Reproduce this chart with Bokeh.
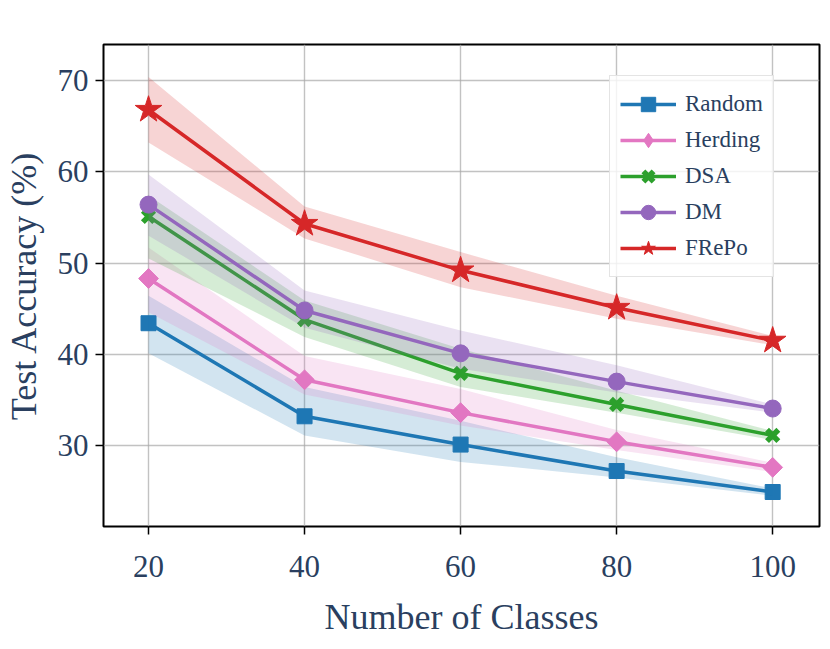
import math
from bokeh.plotting import figure
from bokeh.models import Range1d, Legend, LegendItem, FixedTicker
from bokeh.embed import file_html
from bokeh.resources import INLINE

classes = [20, 40, 60, 80, 100]

random_mean = [43.4, 33.2, 30.1, 27.2, 24.9]
random_lo = [40.1, 31.1, 28.2, 26.5, 24.5]
random_hi = [46.4, 36.4, 32.7, 28.7, 25.3]

herding_mean = [48.3, 37.2, 33.6, 30.4, 27.6]
herding_lo = [44.6, 35.6, 32.2, 29.5, 27.1]
herding_hi = [51.7, 39.8, 36.2, 31.7, 28.1]

dsa_mean = [55.1, 43.8, 37.9, 34.5, 31.1]
dsa_lo = [50.5, 41.9, 36.4, 33.6, 30.6]
dsa_hi = [57.4, 45.9, 40.6, 36.0, 31.6]

dm_mean = [56.4, 44.8, 40.1, 37.0, 34.05]
dm_lo = [53.0, 42.9, 38.4, 35.8, 33.6]
dm_hi = [59.7, 47.0, 42.6, 38.8, 34.5]

frepo_mean = [66.8, 54.3, 49.2, 45.1, 41.5]
frepo_lo = [63.2, 52.7, 47.35, 43.9, 41.0]
frepo_hi = [70.4, 56.2, 51.2, 46.4, 42.0]

series_names = ["Random", "Herding", "DSA", "DM", "FRePo"]
x_ticks = [20, 40, 60, 80, 100]
y_ticks = [30, 40, 50, 60, 70]

TEXT = "#2a3f5f"
FONT = "Liberation Serif"

p = figure(width=822, height=641, output_backend="svg", toolbar_location=None,
           x_range=Range1d(14.23, 106.0), y_range=Range1d(21.12, 73.95),
           min_border_left=103, min_border_right=3, min_border_top=44, min_border_bottom=115)

p.background_fill_color = "white"
p.border_fill_color = "white"
p.outline_line_color = "black"
p.outline_line_width = 2
p.outline_line_alpha = 1

for g in (p.xgrid, p.ygrid):
    g.grid_line_color = "#a8a8a8"
    g.grid_line_alpha = 0.7
    g.grid_line_width = 1.4

p.xaxis.ticker = FixedTicker(ticks=x_ticks)
p.yaxis.ticker = FixedTicker(ticks=y_ticks)
for ax in (p.xaxis, p.yaxis):
    ax.axis_line_color = None
    ax.major_tick_out = 8
    ax.major_tick_in = 0
    ax.major_tick_line_color = "black"
    ax.major_tick_line_width = 1.5
    ax.minor_tick_line_color = None
    ax.major_label_text_font = FONT
    ax.major_label_text_font_size = "31px"
    ax.major_label_text_color = TEXT
    ax.axis_label_text_font = FONT
    ax.axis_label_text_font_size = "36px"
    ax.axis_label_text_font_style = "normal"
    ax.axis_label_text_color = TEXT

p.xaxis.axis_label = "Number of Classes"
p.yaxis.axis_label = "Test Accuracy (%)"
p.xaxis.major_label_standoff = 21
p.xaxis.axis_label_standoff = 17
p.yaxis.major_label_standoff = 7
p.yaxis.axis_label_standoff = 11

# (mean, lo, hi, colour, plot marker, plot size, marker line width, angle)
specs = [
    (random_mean, random_lo, random_hi, "#1f77b4", "square", 15, 1, 0.0),
    (herding_mean, herding_lo, herding_hi, "#e377c2", "square", 14, 1, math.pi / 4),
    (dsa_mean, dsa_lo, dsa_hi, "#2ca02c", "x", 16, 5.5, 0.0),
    (dm_mean, dm_lo, dm_hi, "#9467bd", "circle", 17, 1, 0.0),
    (frepo_mean, frepo_lo, frepo_hi, "#d62728", "star", 28, 1, 0.0),
]

items = []
for name, (mean, lo, hi, color, marker, size, mlw, ang) in zip(series_names, specs):
    ln = p.line(classes, mean, line_color=color, line_width=3.5)
    if ang != 0.0:
        # diamond under the rotated square: it is what the legend shows
        lsc = p.scatter(classes, mean, marker="diamond", size=15, fill_color=color,
                        line_color=color, line_width=1)
    sc = p.scatter(classes, mean, marker=marker, size=size, angle=ang, fill_color=color,
                   line_color=color, line_width=mlw)
    if ang == 0.0:
        lsc = sc
    p.varea(x=classes, y1=lo, y2=hi, fill_color=color, fill_alpha=0.2)
    items.append(LegendItem(label=name, renderers=[ln, lsc]))

legend = Legend(items=items, location=(506, 249))
legend.label_text_font = FONT
legend.label_text_font_size = "23px"
legend.label_text_color = TEXT
legend.glyph_width = 56
legend.glyph_height = 36
legend.spacing = 0
legend.padding = 10
legend.margin = 0
legend.label_standoff = 9
legend.background_fill_color = "white"
legend.background_fill_alpha = 0.8
legend.border_line_color = "#dddddd"
legend.border_line_alpha = 0.8
legend.border_line_width = 1
p.add_layout(legend, "center")

open("out.html", "w").write(file_html(p, INLINE))
